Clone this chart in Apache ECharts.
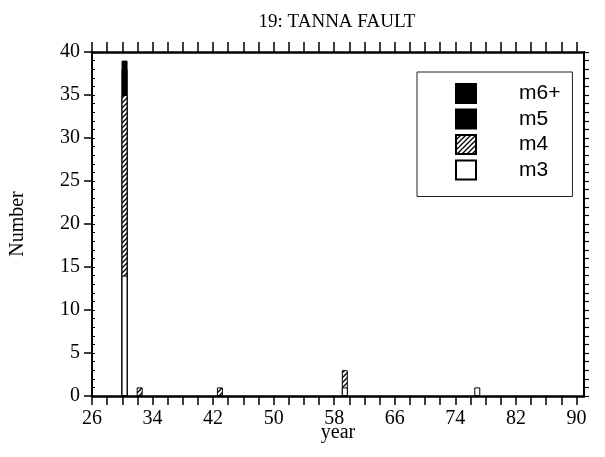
<!DOCTYPE html>
<html><head><meta charset="utf-8">
<script src="https://cdn.jsdelivr.net/npm/echarts@6/dist/echarts.min.js"></script>
<style>html,body{margin:0;padding:0;background:#fff}#c{width:605px;height:457px}</style>
</head><body><div id="c"></div>
<script>
// ---- data ----
const titleText = '19: TANNA FAULT';
const years = [30.3, 32.3, 42.9, 59.4, 76.9];
const m3 = [14, 0, 0, 1, 1];
const m4 = [21, 1, 1, 2, 0];
const m5 = [3, 0, 0, 0, 0];
const m6 = [1, 0, 0, 0, 0];
const xTicks = [26,28,30,32,34,36,38,40,42,44,46,48,50,52,54,56,58,60,62,64,66,68,70,72,74,76,78,80,82,84,86,88,90];
const xLabels = [26,34,42,50,58,66,74,82,90];
const yLabels = [0,5,10,15,20,25,30,35,40];
const yMinor = [0,1,2,3,4,5,6,7,8,9,10,11,12,13,14,15,16,17,18,19,20,21,22,23,24,25,26,27,28,29,30,31,32,33,34,35,36,37,38,39,40];

// hatch pattern
const pc = document.createElement('canvas');
pc.width = 5; pc.height = 5;
const g = pc.getContext('2d');
g.fillStyle = '#fff'; g.fillRect(0,0,5,5);
g.strokeStyle = '#000'; g.lineWidth = 1.3;
g.beginPath(); g.moveTo(-1,6); g.lineTo(6,-1); g.stroke();
g.beginPath(); g.moveTo(-1,1); g.lineTo(1,-1); g.stroke();
g.beginPath(); g.moveTo(4,6); g.lineTo(6,4); g.stroke();
const hatch = {image: pc, repeat: 'repeat'};

// stacked tops computed from the layers (bottom to top), drawn as overlapping bars
const layers = [m3, m4, m5, m6];
const tops = layers.map((arr, k) => arr.map((v, i) => {
  if (!v) return null;
  let s = 0; for (let j = 0; j <= k; j++) s += layers[j][i];
  return [years[i], s];
}));

const serif = 'Liberation Serif';
const chart = echarts.init(document.getElementById('c'), null, {renderer:'canvas'});
const mkSeries = (name, data, color, z) => ({
  name, type:'bar', barWidth: 6, barGap:'-100%', data, z,
  itemStyle:{color, borderColor:'#000', borderWidth:1}, animation:false
});
chart.setOption({
  animation:false,
  title:{text:titleText, left:332, top:8, textAlign:'center',
    textStyle:{fontFamily:serif, fontSize:19, fontWeight:'normal', color:'#000'}},
  grid:{left:92, right:21, top:52, bottom:61, outerBoundsMode:'none', containLabel:false},
  legend:{
    orient:'vertical', left:417, top:72,
    data:['m6+','m5','m4','m3'],
    itemWidth:20, itemHeight:19, itemGap:4.5,
    padding:[11,12,16,38],
    borderColor:'#222', borderWidth:1, selectedMode:false,
    icon:'rect',
    textStyle:{fontFamily:'Liberation Sans', fontSize:21, color:'#000', padding:[0,0,0,38], lineHeight:21}
  },
  xAxis:[
    {type:'value', min:26, max:91, position:'bottom',
     name:'year', nameLocation:'middle', nameGap:27, nameMoveOverlap:false,
     nameTextStyle:{fontFamily:serif, fontSize:20, color:'#000', lineHeight:20},
     axisLine:{onZero:false, lineStyle:{color:'#000', width:2.5}},
     axisTick:{customValues:xTicks, length:9, lineStyle:{color:'#000', width:1.5}},
     axisLabel:{customValues:xLabels, margin:13, fontFamily:serif, fontSize:20, color:'#000'},
     splitLine:{show:false}},
    {type:'value', min:26, max:91, position:'top',
     axisLine:{onZero:false, lineStyle:{color:'#000', width:2.5}},
     axisTick:{customValues:xTicks, length:10, lineStyle:{color:'#000', width:1.5}},
     axisLabel:{show:false}, splitLine:{show:false}}
  ],
  yAxis:[
    {type:'value', min:0, max:40, position:'left',
     name:'Number', nameLocation:'middle', nameGap:64, nameRotate:90, nameMoveOverlap:false,
     nameTextStyle:{fontFamily:serif, fontSize:20, color:'#000'},
     axisLine:{onZero:false, lineStyle:{color:'#000', width:2}},
     axisTick:{customValues:yLabels, length:8, lineStyle:{color:'#000', width:1.5}},
     axisLabel:{customValues:yLabels, margin:12, fontFamily:serif, fontSize:20, color:'#000'},
     splitLine:{show:false}},
    {type:'value', min:0, max:40, position:'left', offset:0,
     axisLine:{show:false},
     axisTick:{customValues:yMinor, inside:true, length:3, lineStyle:{color:'#000', width:1}},
     axisLabel:{show:false}, splitLine:{show:false}},
    {type:'value', min:0, max:40, position:'right',
     axisLine:{onZero:false, lineStyle:{color:'#000', width:2}},
     axisTick:{customValues:yMinor, length:5, lineStyle:{color:'#000', width:1.2}},
     axisLabel:{show:false}, splitLine:{show:false}}
  ],
  series:[
    mkSeries('m6+', tops[3], '#000', 2),
    mkSeries('m5', tops[2], '#000', 3),
    mkSeries('m4', tops[1], hatch, 4),
    mkSeries('m3', tops[0], '#fff', 5)
  ]
});
</script></body></html>
